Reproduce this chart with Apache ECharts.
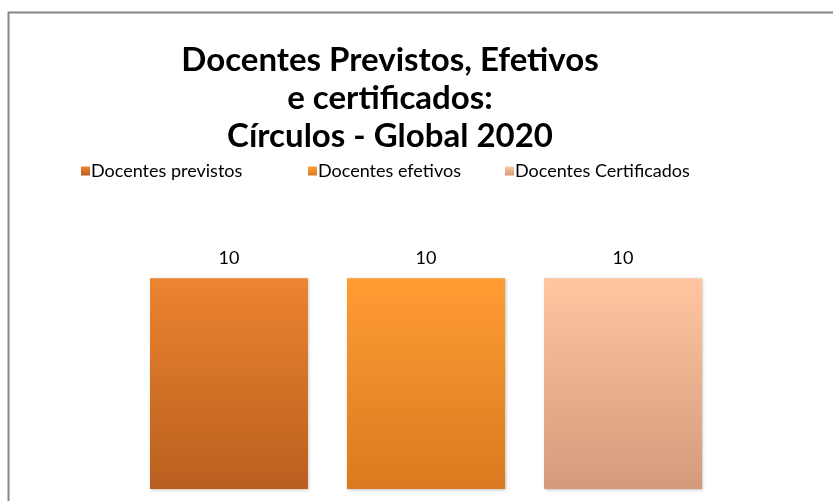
<!DOCTYPE html>
<html>
<head>
<meta charset="utf-8">
<script src="https://cdn.jsdelivr.net/npm/echarts@6/dist/echarts.min.js"></script>
<style>
  html, body { margin: 0; padding: 0; background: #fff; }
  #chart { width: 833px; height: 501px; }
</style>
</head>
<body>
<div id="chart"></div>
<script>
// data
var categories = ['Global 2020'];
var seriesNames = ['Docentes previstos', 'Docentes efetivos', 'Docentes Certificados'];
var previstos = [10];
var efetivos = [10];
var certificados = [10];

var FONT = 'Lato';

function grad(top, bottom) {
  return new echarts.graphic.LinearGradient(0, 0, 0, 1, [
    { offset: 0, color: top },
    { offset: 1, color: bottom }
  ]);
}

var colTop = ['#EC8430', '#FF9C33', '#FFC6A0'];
var colBot = ['#B95F1E', '#DA7A20', '#D49A7C'];

var myChart = echarts.init(document.getElementById('chart'));

function legendAt(x, name) {
  return {
    data: [name],
    left: x,
    top: 162,
    padding: 0,
    itemWidth: 9,
    itemHeight: 9,
    itemGap: 0,
    icon: 'rect',
    textStyle: { color: '#000', fontSize: 18, fontFamily: FONT, padding: [0, 0, 0, -4] }
  };
}

function barSeries(i, values) {
  return {
    name: seriesNames[i],
    type: 'bar',
    data: values,
    barWidth: 158,
    barGap: '24.7%',
    itemStyle: {
      color: grad(colTop[i], colBot[i]),
      shadowColor: 'rgba(0,0,0,0.25)',
      shadowBlur: 3,
      shadowOffsetX: 1,
      shadowOffsetY: 1
    },
    label: {
      show: true,
      position: 'top',
      distance: 11,
      color: '#000',
      fontSize: 18,
      fontFamily: FONT
    }
  };
}

var option = {
  animation: false,
  color: colTop,
  title: {
    text: 'Docentes Previstos, Efetivos\ne certificados:\nCírculos - Global 2020',
    left: 385,
    top: 36,
    textAlign: 'center',
    textStyle: {
      color: '#000',
      fontSize: 33,
      fontWeight: 'bold',
      fontFamily: FONT,
      lineHeight: 38
    }
  },
  legend: [
    legendAt(81, seriesNames[0]),
    legendAt(308, seriesNames[1]),
    legendAt(505, seriesNames[2])
  ],
  grid: { left: 130, right: 111, top: 236, bottom: 12 },
  xAxis: {
    type: 'category',
    data: categories,
    show: false
  },
  yAxis: {
    type: 'value',
    min: 0,
    max: 12,
    show: false
  },
  graphic: [{
    type: 'polyline',
    shape: { points: [[8.5, 520], [8.5, 12.5], [840, 12.5]] },
    style: { stroke: '#868686', lineWidth: 2, fill: null }
  }],
  series: [
    barSeries(0, previstos),
    barSeries(1, efetivos),
    barSeries(2, certificados)
  ]
};
myChart.setOption(option);
</script>
</body>
</html>
